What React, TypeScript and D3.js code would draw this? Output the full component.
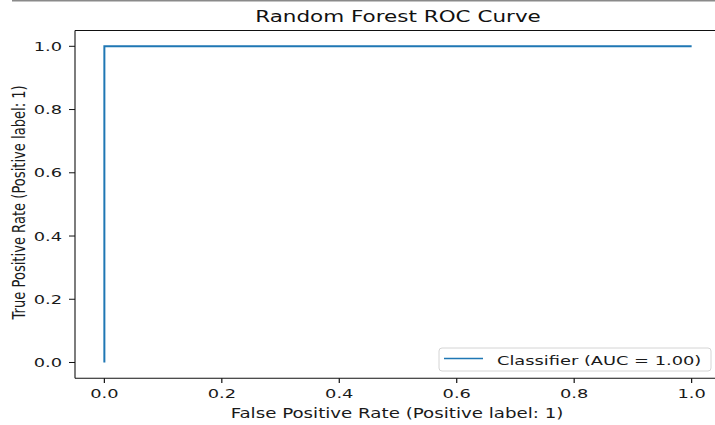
import React from "react";
import * as d3 from "d3";

// ROC curve points
const fpr: number[] = [0, 0, 1];
const tpr: number[] = [0, 1, 1];

const xTicks: number[] = [0, 0.2, 0.4, 0.6, 0.8, 1.0];
const yTicks: number[] = [0, 0.2, 0.4, 0.6, 0.8, 1.0];

const titleText = "Random Forest ROC Curve";
const xLabelText = "False Positive Rate (Positive label: 1)";
const yLabelText = "True Positive Rate (Positive label: 1)";
const legendText = "Classifier (AUC = 1.00)";

const W = 715;
const H = 425;
const SX = 1.37; // horizontal text stretch
const FONT = "DejaVu Sans, sans-serif";
const BLUE = "#1f77b4";

const plot = { left: 75, right: 721, top: 30.5, bottom: 378.3 };

function SText(props: {
  x: number;
  y: number;
  size: number;
  anchor?: "start" | "middle" | "end";
  rotate?: number;
  fill?: string;
  children: React.ReactNode;
}) {
  const { x, y, size, anchor = "start", rotate = 0, fill = "#1a1a1a", children } = props;
  return (
    <text
      transform={`translate(${x},${y}) scale(${SX},1)${rotate ? ` rotate(${rotate})` : ""}`}
      textAnchor={anchor}
      fontFamily={FONT}
      fontSize={size}
      fill={fill}
    >
      {children}
    </text>
  );
}

export default function App() {
  const x = d3.scaleLinear().domain([-0.05, 1.05]).range([plot.left, plot.right]);
  const y = d3.scaleLinear().domain([-0.05, 1.05]).range([plot.bottom, plot.top]);

  const pts: [number, number][] = fpr.map((f, i) => [f, tpr[i]]);
  const line = d3
    .line<[number, number]>()
    .x((d) => x(d[0]))
    .y((d) => y(d[1]));

  const fmt = d3.format(".1f");

  return (
    <svg
      width={W}
      height={H}
      viewBox={`0 0 ${W} ${H}`}
      style={{ position: "fixed", left: 0, top: 0, background: "#fff" }}
    >
      <rect x={0} y={0} width={W} height={H} fill="#fff" />
      <rect x={12} y={0} width={W - 12} height={1.5} fill="#8a8a8a" />

      {/* Title */}
      <SText x={(plot.left + plot.right) / 2} y={22.3} size={15.7} anchor="middle" fill="#111">
        {titleText}
      </SText>

      {/* ROC curve */}
      <path d={line(pts) ?? ""} fill="none" stroke={BLUE} strokeWidth={2} />

      {/* Spines */}
      <g stroke="#111" strokeWidth={1.1} fill="none">
        <line x1={plot.left} x2={plot.left} y1={plot.top} y2={plot.bottom} />
        <line x1={plot.left} x2={plot.right} y1={plot.bottom} y2={plot.bottom} />
        <line x1={plot.left} x2={plot.right} y1={plot.top} y2={plot.top} />
        <line x1={plot.right} x2={plot.right} y1={plot.top} y2={plot.bottom} />
      </g>

      {/* Y ticks */}
      {yTicks.map((t) => (
        <g key={`y${t}`}>
          <line x1={plot.left - 6} x2={plot.left} y1={y(t)} y2={y(t)} stroke="#111" strokeWidth={1} />
          <SText x={62} y={y(t) + 4.7} size={13} anchor="end">
            {fmt(t)}
          </SText>
        </g>
      ))}

      {/* X ticks */}
      {xTicks.map((t) => (
        <g key={`x${t}`}>
          <line x1={x(t)} x2={x(t)} y1={plot.bottom} y2={plot.bottom + 4.7} stroke="#111" strokeWidth={1.2} />
          <SText x={x(t)} y={398.3} size={13} anchor="middle">
            {fmt(t)}
          </SText>
        </g>
      ))}

      {/* Axis labels */}
      <SText x={(plot.left + plot.right) / 2 - 1} y={417.7} size={13.3} anchor="middle">
        {xLabelText}
      </SText>
      <SText x={24.5} y={(plot.top + plot.bottom) / 2 - 2} size={13.1} anchor="middle" rotate={-90}>
        {yLabelText}
      </SText>

      {/* Legend */}
      <g>
        <rect x={439} y={348} width={272} height={23} rx={3} fill="#fff" fillOpacity={0.8} stroke="#d4d4d4" strokeWidth={1} />
        <line x1={444} x2={483} y1={358.5} y2={358.5} stroke={BLUE} strokeWidth={1.6} />
        <SText x={497} y={365} size={13}>
          {legendText}
        </SText>
      </g>
    </svg>
  );
}
